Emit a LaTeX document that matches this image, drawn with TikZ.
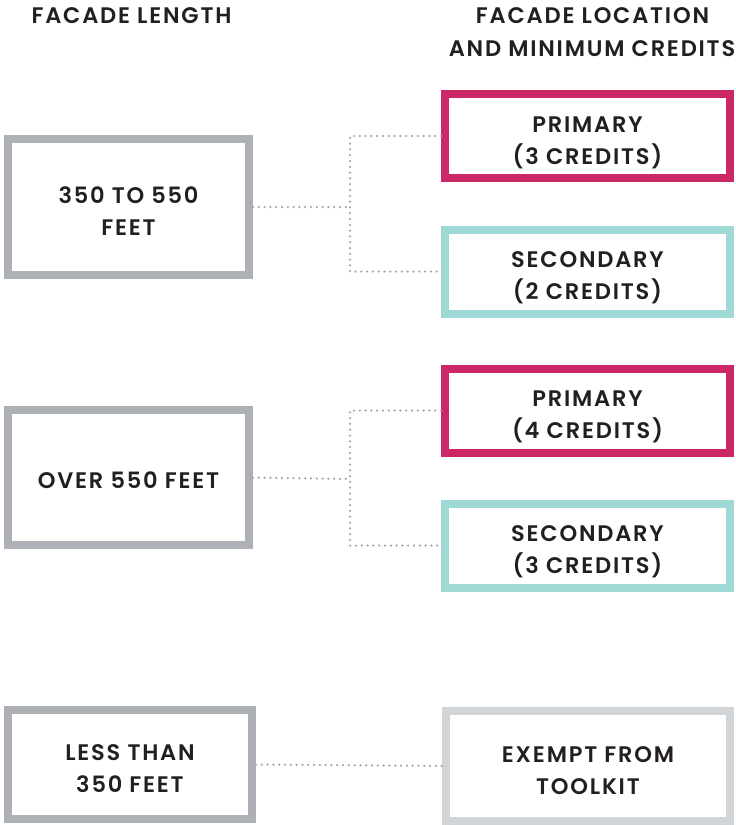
\documentclass[tikz,border=0pt]{standalone}
\usepackage{fontspec}
\newfontfamily\lblfont{Poppins SemiBold}[LetterSpace=8]
\definecolor{txt}{HTML}{231F20}
\definecolor{lgray}{HTML}{ADB0B4}
\definecolor{xgray}{HTML}{D1D5D8}
\definecolor{magenta}{HTML}{CC2867}
\definecolor{teal}{HTML}{9ED9D6}
\definecolor{dotgray}{HTML}{A4A7AB}
\newcommand\tup{\rule{0pt}{29pt}}
\newcommand\oneup{\rule{0pt}{26pt}}
\newcommand\tdn{\rule[-5pt]{0pt}{5pt}}
\tikzset{
  lbl/.style={text=txt, font=\lblfont\fontsize{22.5pt}{32pt}\selectfont, align=center},
  box/.style={lbl, draw, line width=8pt, inner sep=0pt},
  leftbox/.style={box, draw=lgray, minimum width=241pt},
  rightbox/.style={box, minimum width=285pt, minimum height=84pt},
  prim/.style={rightbox, draw=magenta},
  sec/.style={rightbox, draw=teal},
  exempt/.style={box, draw=xgray, minimum width=284pt, minimum height=110pt},
  conn/.style={draw=dotgray, line width=2.5pt, line cap=round, dash pattern=on 0pt off 5.8pt}
}
\begin{document}
\begin{tikzpicture}[x=1pt,y=-1pt]
\useasboundingbox (0,0) rectangle (736,825);
% headers
\node[lbl, anchor=base] (h1) at (131.5,23.3) {FACADE LENGTH};
\node[lbl, anchor=base] (h2a) at (592.5,23.3) {FACADE LOCATION};
\node[lbl, anchor=base] (h2b) at (592,56.7) {AND MINIMUM CREDITS};
% left boxes
\node[leftbox, minimum height=136pt] (L1) at (128.5,207) {\tup350 TO 550\\FEET\tdn};
\node[leftbox, minimum height=135pt] (L2) at (128.5,477.5) {\oneup OVER 550 FEET\tdn};
\node[leftbox, minimum width=244pt, minimum height=109pt] (L3) at (130,764.5) {\tup LESS THAN\\350 FEET\tdn};
% right boxes
\node[prim] (P1) at (587.5,136) {\tup PRIMARY\\(3 CREDITS)\tdn};
\node[sec] (S1) at (587.5,271.5) {\tup SECONDARY\\(2 CREDITS)\tdn};
\node[prim] (P2) at (587.5,410.5) {\tup PRIMARY\\(4 CREDITS)\tdn};
\node[sec] (S2) at (587.5,545.5) {\tup SECONDARY\\(3 CREDITS)\tdn};
\node[exempt] (E) at (588,766) {\tup EXEMPT FROM\\TOOLKIT\tdn};
% connectors
\coordinate (j1) at (350,207);
\coordinate (j2) at (350,479);
\draw[conn] (L1.east) -- (j1);
\draw[conn] (P1.west) -| (j1) |- (S1.west);
\draw[conn] (L2.east) -- (j2);
\draw[conn] (P2.west) -| (j2) |- (S2.west);
\draw[conn] (L3.east) -- (E.west);
\end{tikzpicture}
\end{document}
